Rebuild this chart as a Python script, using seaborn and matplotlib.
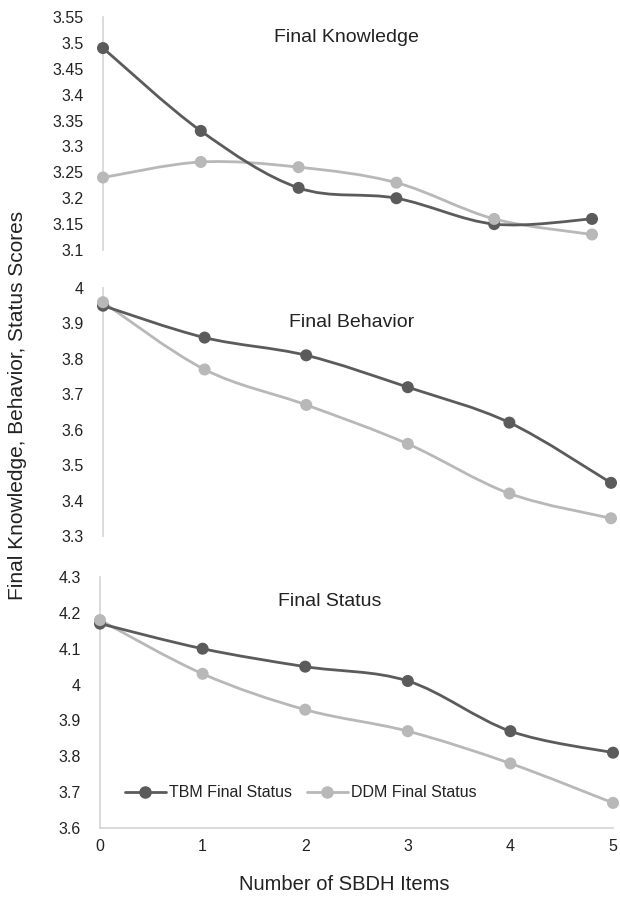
import numpy as np
import pandas as pd
import matplotlib
matplotlib.use("Agg")
import matplotlib.pyplot as plt
from matplotlib.path import Path
from matplotlib.patches import PathPatch
from matplotlib.lines import Line2D
import seaborn as sns

# Data
items = [0, 1, 2, 3, 4, 5]

knowledge_tbm = [3.49, 3.33, 3.22, 3.20, 3.15, 3.16]
knowledge_ddm = [3.24, 3.27, 3.26, 3.23, 3.16, 3.13]

behavior_tbm = [3.95, 3.86, 3.81, 3.72, 3.62, 3.45]
behavior_ddm = [3.96, 3.77, 3.67, 3.56, 3.42, 3.35]

status_tbm = [4.17, 4.10, 4.05, 4.01, 3.87, 3.81]
status_ddm = [4.18, 4.03, 3.93, 3.87, 3.78, 3.67]

panel_titles = ["Final Knowledge", "Final Behavior", "Final Status"]
series_names = ["TBM Final Status", "DDM Final Status"]

sns.set_theme(style="white")
plt.rcParams['font.family'] = ['Liberation Sans', 'DejaVu Sans']

DARK = "#5b5b5b"
LIGHT = "#b8b8b8"
SPINE = "#d4d4d4"
TEXT = "#222222"


def smooth_path(xs, ys):
    # Excel-style smoothed line: cubic bezier through each data point
    xs = np.asarray(xs, float)
    ys = np.asarray(ys, float)
    pts = np.column_stack([xs, ys])
    verts = [pts[0]]
    codes = [Path.MOVETO]
    n = len(pts)
    for i in range(n - 1):
        p0 = pts[max(i - 1, 0)]
        p1 = pts[i]
        p2 = pts[i + 1]
        p3 = pts[min(i + 2, n - 1)]
        c1 = p1 + (p2 - p0) / 6.0
        c2 = p2 - (p3 - p1) / 6.0
        verts += [c1, c2, p2]
        codes += [Path.CURVE4] * 3
    return Path(verts, codes)


W, H = 620, 898
fig = plt.figure(figsize=(W / 100, H / 100), dpi=100)

# pixel boxes: (x0, x1, ytop, ybottom)
boxes = [(103, 592, 17, 250), (103, 611, 288, 536), (100, 613, 577, 828)]
ylims = [(3.1, 3.55), (3.3, 4.0), (3.6, 4.3)]
ysteps = [0.05, 0.1, 0.1]
data = [(knowledge_tbm, knowledge_ddm), (behavior_tbm, behavior_ddm), (status_tbm, status_ddm)]
title_pos = [(346, 38), (352, 322), (330, 601)]

for k in range(3):
    x0, x1, yt, yb = boxes[k]
    ax = fig.add_axes([x0 / W, 1 - yb / H, (x1 - x0) / W, (yb - yt) / H])
    tbm, ddm = data[k]
    df = pd.DataFrame({"items": items * 2,
                       "score": tbm + ddm,
                       "series": [series_names[0]] * 6 + [series_names[1]] * 6})
    for vals, col in [(ddm, LIGHT), (tbm, DARK)]:
        ax.add_patch(PathPatch(smooth_path(items, vals), facecolor="none",
                               edgecolor=col, lw=2.0, clip_on=False))
    sns.scatterplot(data=df, x="items", y="score", hue="series",
                    palette={series_names[0]: DARK, series_names[1]: LIGHT},
                    s=75, edgecolor="none", legend=False, ax=ax, clip_on=False, zorder=3)
    lo, hi = ylims[k]
    ax.set_xlim(0, 5)
    ax.set_ylim(lo, hi)
    ticks = np.round(np.arange(lo, hi + 1e-9, ysteps[k]), 2)
    ax.set_yticks(ticks)
    ax.set_yticklabels([f"{t:g}" for t in ticks], fontsize=11.5, color=TEXT)
    ax.tick_params(axis="y", length=0, pad=14)
    ax.set_xlabel("")
    ax.set_ylabel("")
    for s in ["top", "right"]:
        ax.spines[s].set_visible(False)
    ax.spines["left"].set_color(SPINE)
    ax.spines["left"].set_linewidth(1.2)
    if k < 2:
        ax.spines["bottom"].set_visible(False)
        ax.set_xticks([])
    else:
        ax.spines["bottom"].set_color(SPINE)
        ax.spines["bottom"].set_linewidth(1.2)
        ax.set_xticks(items)
        ax.set_xticklabels([str(i) for i in items], fontsize=11.5, color=TEXT)
        ax.tick_params(axis="x", length=0, pad=8)
        handles = [Line2D([], [], color=DARK, lw=2, marker="o", markersize=8),
                   Line2D([], [], color=LIGHT, lw=2, marker="o", markersize=8)]
        ax.legend(handles, series_names, loc="center left", bbox_to_anchor=(0.02, 0.14),
                  ncol=2, frameon=False, fontsize=11.5, handlelength=2.6,
                  handletextpad=0.2, columnspacing=0.9, labelcolor=TEXT)
    tx, ty = title_pos[k]
    fig.text(tx / W, 1 - ty / H, panel_titles[k], ha="center", va="center",
             fontsize=14, color=TEXT)

fig.text(18 / W, 1 - 405 / H, "Final Knowledge, Behavior, Status Scores",
         rotation=90, ha="center", va="center", fontsize=15, color=TEXT)
fig.text(344 / W, 1 - 885 / H, "Number of SBDH Items", ha="center", va="center",
         fontsize=14.5, color=TEXT)

fig.savefig("out.png", dpi=100)
plt.close(fig)
